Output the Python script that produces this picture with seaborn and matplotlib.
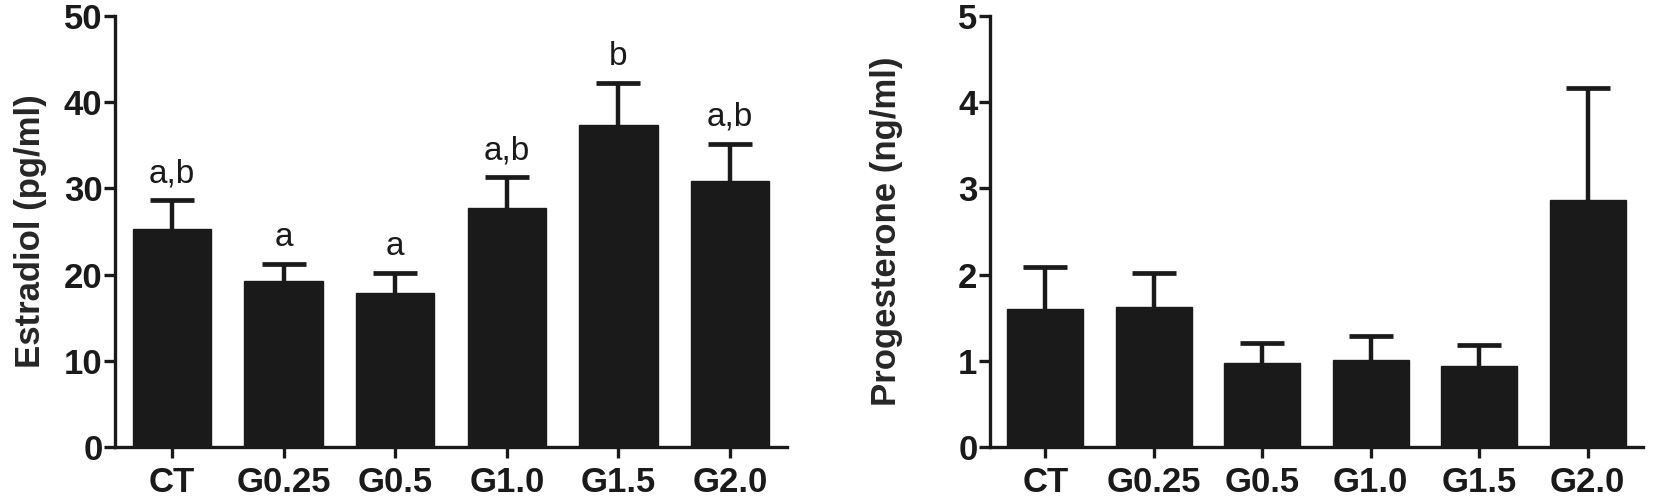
import matplotlib
matplotlib.use("Agg")
import matplotlib.pyplot as plt
import seaborn as sns
import pandas as pd
import numpy as np

groups = ["CT", "G0.25", "G0.5", "G1.0", "G1.5", "G2.0"]
estradiol_mean = [25.3, 19.3, 17.9, 27.7, 37.4, 30.9]
estradiol_sem = [3.3, 1.9, 2.3, 3.6, 4.8, 4.3]
estradiol_letters = ["a,b", "a", "a", "a,b", "b", "a,b"]
progesterone_mean = [1.60, 1.62, 0.97, 1.01, 0.94, 2.87]
progesterone_sem = [0.49, 0.40, 0.24, 0.28, 0.24, 1.30]

sns.set_theme(style="ticks")
plt.rcParams["font.family"] = ["Liberation Sans", "DejaVu Sans"]

W, H = 1653, 504
fig = plt.figure(figsize=(W / 100, H / 100), dpi=100)
bar_color = "#1a1a1a"


def panel(rect, means, sems, ylabel, ymax, step, letters=None, labelpad=8):
    ax = fig.add_axes(rect)
    df = pd.DataFrame({"group": groups, "value": means})
    sns.barplot(data=df, x="group", y="value", color=bar_color, width=0.70,
                saturation=1, errorbar=None, ax=ax, zorder=3)
    for p in ax.patches:
        p.set_edgecolor(bar_color)
        p.set_linewidth(1)
    x = np.arange(len(groups))
    _, caps, _ = ax.errorbar(x, means, yerr=[np.zeros(len(means)), sems],
                             fmt="none", ecolor=bar_color, elinewidth=3.2,
                             capsize=16, capthick=3.4, zorder=2)
    # keep only the upper cap
    if len(caps) == 2:
        caps[0].remove()
    if letters:
        for xi, m, s, t in zip(x, means, sems, letters):
            ax.annotate(t, (xi, m + s), xytext=(0, 8), textcoords="offset points",
                        ha="center", va="bottom", fontsize=24, color="#1a1a1a")
    ax.set_xlim(-0.51, len(groups) - 0.49)
    ax.set_ylim(0, ymax)
    ax.set_yticks(np.arange(0, ymax + step / 2, step))
    ax.set_xlabel("")
    ax.set_ylabel(ylabel, fontsize=25, fontweight="bold", labelpad=labelpad)
    for lab in ax.get_xticklabels() + ax.get_yticklabels():
        lab.set_fontweight("bold")
        lab.set_fontsize(25)
    ax.tick_params(axis="both", length=8, width=2.4, color="#1a1a1a",
                   labelcolor="#1a1a1a")
    ax.tick_params(axis="y", pad=1)
    ax.tick_params(axis="x", pad=6)
    sns.despine(ax=ax)
    for sp in ["left", "bottom"]:
        ax.spines[sp].set_linewidth(2.4)
        ax.spines[sp].set_color("#1a1a1a")
    ax.set_facecolor("white")
    return ax


bottom = (H - 447) / H
height = 431 / H
panel([115 / W, bottom, 672 / W, height], estradiol_mean, estradiol_sem,
      "Estradiol (pg/ml)", 50, 10, estradiol_letters, labelpad=12)
panel([990 / W, bottom, 653 / W, height], progesterone_mean, progesterone_sem,
      "Progesterone (ng/ml)", 5, 1, labelpad=40)

fig.savefig("out.png", dpi=100, facecolor="white")
